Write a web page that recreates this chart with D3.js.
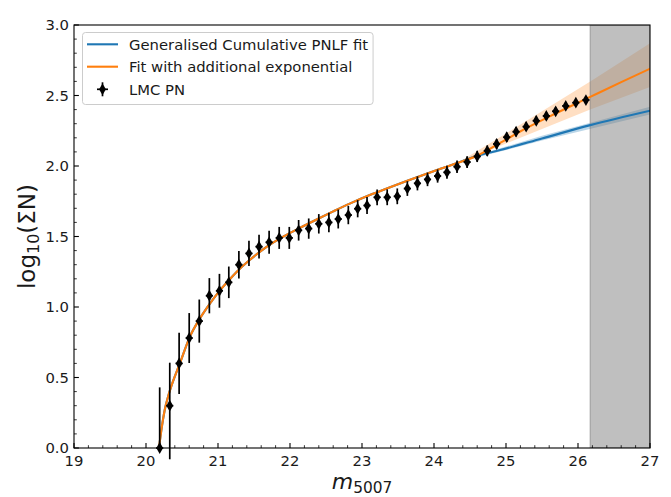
<!DOCTYPE html>
<html><head><meta charset="utf-8">
<script src="https://cdn.jsdelivr.net/npm/d3@7"></script>
<style>body{margin:0;background:#fff}svg{display:block;font-family:"DejaVu Sans",sans-serif}</style>
</head><body>
<svg id="c" width="671" height="497"></svg>
<script>
// ---- data ----
const ptsX = [20.19,20.33,20.46,20.60,20.74,20.88,21.02,21.15,21.29,21.43,21.57,21.71,21.85,21.99,22.12,22.26,22.40,22.54,22.67,22.81,22.94,23.07,23.21,23.35,23.49,23.63,23.77,23.91,24.05,24.18,24.32,24.46,24.60,24.74,24.87,25.01,25.14,25.28,25.42,25.56,25.69,25.83,25.97,26.11];
const ptsY = [0,0.30,0.60,0.78,0.90,1.08,1.115,1.175,1.30,1.38,1.428,1.459,1.49,1.49,1.544,1.556,1.59,1.60,1.624,1.652,1.697,1.72,1.778,1.778,1.785,1.84,1.877,1.905,1.929,1.955,1.995,2.028,2.068,2.108,2.156,2.204,2.243,2.279,2.321,2.355,2.388,2.426,2.449,2.468];
const errHi = [0.43,0.305,0.217,0.177,0.153,0.125,0.120,0.112,0.097,0.089,0.084,0.081,0.078,0.078,0.073,0.072,0.069,0.069,0.067,0.065,0.061,0.060,0.056,0.056,0.056,0.052,0.050,0.048,0.047,0.046,0.044,0.042,0.040,0.038,0.036,0.034,0.033,0.031,0.030,0.029,0.028,0.027,0.026,0.025];
const errLo = [0,0.38,0.217,0.177,0.153,0.125,0.120,0.112,0.097,0.089,0.084,0.081,0.078,0.078,0.073,0.072,0.069,0.069,0.067,0.065,0.061,0.060,0.056,0.056,0.056,0.052,0.050,0.048,0.047,0.046,0.044,0.042,0.040,0.038,0.036,0.034,0.033,0.031,0.030,0.029,0.028,0.027,0.026,0.025];
const xErr = 0.05;

// shared part of both fits
const fitX = [20.18,20.22,20.26,20.31,20.38,20.47,20.61,20.75,20.89,21.03,21.17,21.31,21.44,21.67,21.91,22.14,22.37,22.60,22.83,23.10,23.39,23.62,23.85,24.08,24.31,24.59];
const fitY = [0,0.15,0.27,0.37,0.48,0.60,0.79,0.92,1.026,1.12,1.20,1.274,1.333,1.425,1.50,1.562,1.621,1.678,1.733,1.792,1.849,1.893,1.936,1.978,2.019,2.071];
// divergent tails
const blueTailX = [24.92,25.50,26.17,27.0];
const blueTailY = [2.113,2.195,2.29,2.392];
const orangeTailX = [24.87,25.19,25.60,26.17,26.60,27.0];
const orangeTailY = [2.149,2.243,2.35,2.49,2.595,2.69];
// confidence bands
const orangeBandX = [24.40,25.00,26.17,27.0];
const orangeBandLo = [2.035,2.16,2.40,2.56];
const orangeBandHi = [2.045,2.23,2.60,2.87];
const blueBandX = [24.40,25.50,27.0];
const blueBandLo = [2.035,2.18,2.365];
const blueBandHi = [2.045,2.215,2.42];
const spanStart = 26.17, spanEnd = 27;

const xTicks = [19,20,21,22,23,24,25,26,27];
const yTicks = [0,0.5,1.0,1.5,2.0,2.5,3.0];
const legendLabels = ["Generalised Cumulative PNLF fit","Fit with additional exponential","LMC PN"];

// ---- drawing ----
const svg = d3.select("#c");
const L=74,R=650,T=25,B=448;
const x = d3.scaleLinear([19,27],[L,R]);
const y = d3.scaleLinear([0,3],[B,T]);
const blue="#1f77b4", orange="#ff7f0e";
const FS = 14.8;

svg.append("defs").append("clipPath").attr("id","clip")
  .append("rect").attr("x",L).attr("y",T).attr("width",R-L).attr("height",B-T);
const plot = svg.append("g").attr("clip-path","url(#clip)");

const line = d3.line().x(d=>x(d[0])).y(d=>y(d[1])).curve(d3.curveMonotoneX);
const area = d3.area().x(d=>x(d[0])).y0(d=>y(d[1])).y1(d=>y(d[2])).curve(d3.curveLinear);

const common = fitX.map((v,i)=>[v,fitY[i]]);
const blueLine = common.concat(blueTailX.map((v,i)=>[v,blueTailY[i]]));
const orangeLine = common.concat(orangeTailX.map((v,i)=>[v,orangeTailY[i]]));

plot.append("path").attr("d",area(blueBandX.map((v,i)=>[v,blueBandLo[i],blueBandHi[i]])))
  .attr("fill",blue).attr("opacity",0.3);
plot.append("path").attr("d",area(orangeBandX.map((v,i)=>[v,orangeBandLo[i],orangeBandHi[i]])))
  .attr("fill",orange).attr("opacity",0.25);

// grey span
plot.append("rect").attr("x",x(spanStart)).attr("y",T).attr("width",x(spanEnd)-x(spanStart)).attr("height",B-T)
  .attr("fill","grey").attr("fill-opacity",0.5).attr("stroke","grey").attr("stroke-opacity",0.5).attr("stroke-width",1.4);

plot.append("path").attr("d",line(blueLine)).attr("fill","none").attr("stroke",blue).attr("stroke-width",2.1);
plot.append("path").attr("d",line(orangeLine)).attr("fill","none").attr("stroke",orange).attr("stroke-width",2.1);

// error bars + points
const eb = svg.append("g");
ptsX.forEach((px,i)=>{
  const py = ptsY[i];
  eb.append("line").attr("x1",x(px)).attr("x2",x(px)).attr("y1",y(py-errLo[i])).attr("y2",y(py+errHi[i]))
    .attr("stroke","black").attr("stroke-width",1.7);
  eb.append("line").attr("x1",x(px-xErr)).attr("x2",x(px+xErr)).attr("y1",y(py)).attr("y2",y(py))
    .attr("stroke","black").attr("stroke-width",1.7);
  eb.append("path").attr("d",d3.symbol(d3.symbolDiamond,40)()).attr("transform",`translate(${x(px)},${y(py)})`).attr("fill","black");
});

// axes
const ax = svg.append("g");
const xMinor = d3.range(19,27.001,0.2).filter(v=>Math.abs(v-Math.round(v))>1e-6);
const yMinor = d3.range(0,3.001,0.1).filter(v=>Math.abs(v*2-Math.round(v*2))>1e-6);
xTicks.forEach(t=>ax.append("line").attr("x1",x(t)).attr("x2",x(t)).attr("y1",B).attr("y2",B-4.9).attr("stroke","black").attr("stroke-width",1.1));
xMinor.forEach(t=>ax.append("line").attr("x1",x(t)).attr("x2",x(t)).attr("y1",B).attr("y2",B-2.8).attr("stroke","black").attr("stroke-width",0.8));
yTicks.forEach(t=>ax.append("line").attr("x1",L).attr("x2",L+4.9).attr("y1",y(t)).attr("y2",y(t)).attr("stroke","black").attr("stroke-width",1.1));
yMinor.forEach(t=>ax.append("line").attr("x1",L).attr("x2",L+2.8).attr("y1",y(t)).attr("y2",y(t)).attr("stroke","black").attr("stroke-width",0.8));
ax.append("rect").attr("x",L).attr("y",T).attr("width",R-L).attr("height",B-T).attr("fill","none").attr("stroke","black").attr("stroke-width",1.1);

xTicks.forEach(t=>ax.append("text").attr("x",x(t)).attr("y",B+18).attr("text-anchor","middle").attr("font-size",FS).attr("fill","#1a1a1a").text(d3.format("d")(t)));
yTicks.forEach(t=>ax.append("text").attr("x",L-5).attr("y",y(t)).attr("dy","0.35em").attr("text-anchor","end").attr("font-size",FS).attr("fill","#1a1a1a").text(d3.format(".1f")(t)));

// axis labels
const xl = svg.append("text").attr("x",x(23)).attr("y",489).attr("text-anchor","middle").attr("font-size",22).attr("fill","#1a1a1a");
xl.append("tspan").attr("font-style","italic").text("m");
xl.append("tspan").attr("font-size",15.4).attr("dy",3.5).text("5007");
const yl = svg.append("text").attr("transform",`translate(35,${(T+B)/2}) rotate(-90)`).attr("text-anchor","middle").attr("font-size",23).attr("fill","#1a1a1a");
yl.append("tspan").text("log");
yl.append("tspan").attr("font-size",16).attr("dy",4).text("10");
yl.append("tspan").attr("dy",-4).text("(ΣN)");

// legend
const lg = svg.append("g");
const box = lg.append("rect").attr("x",82.5).attr("y",32.5).attr("height",72).attr("rx",3)
  .attr("fill","white").attr("fill-opacity",0.8).attr("stroke","#cccccc").attr("stroke-width",1);
const rowY = [44.3,66.7,89.3];
let maxW = 0;
legendLabels.forEach((lab,i)=>{
  const t = lg.append("text").attr("x",129).attr("y",rowY[i]).attr("dy","0.36em").attr("font-size",FS).attr("fill","#1a1a1a").text(lab);
  maxW = Math.max(maxW,t.node().getComputedTextLength());
});
lg.append("line").attr("x1",87).attr("x2",118).attr("y1",rowY[0]).attr("y2",rowY[0]).attr("stroke",blue).attr("stroke-width",2.1);
lg.append("line").attr("x1",87).attr("x2",118).attr("y1",rowY[1]).attr("y2",rowY[1]).attr("stroke",orange).attr("stroke-width",2.1);
lg.append("line").attr("x1",102.5).attr("x2",102.5).attr("y1",rowY[2]-7).attr("y2",rowY[2]+7).attr("stroke","black").attr("stroke-width",1.7);
lg.append("line").attr("x1",97).attr("x2",108).attr("y1",rowY[2]).attr("y2",rowY[2]).attr("stroke","black").attr("stroke-width",1.7);
lg.append("path").attr("d",d3.symbol(d3.symbolDiamond,40)()).attr("transform",`translate(102.5,${rowY[2]})`).attr("fill","black");
box.attr("width",129+maxW+5-82.5);
</script>
</body></html>
